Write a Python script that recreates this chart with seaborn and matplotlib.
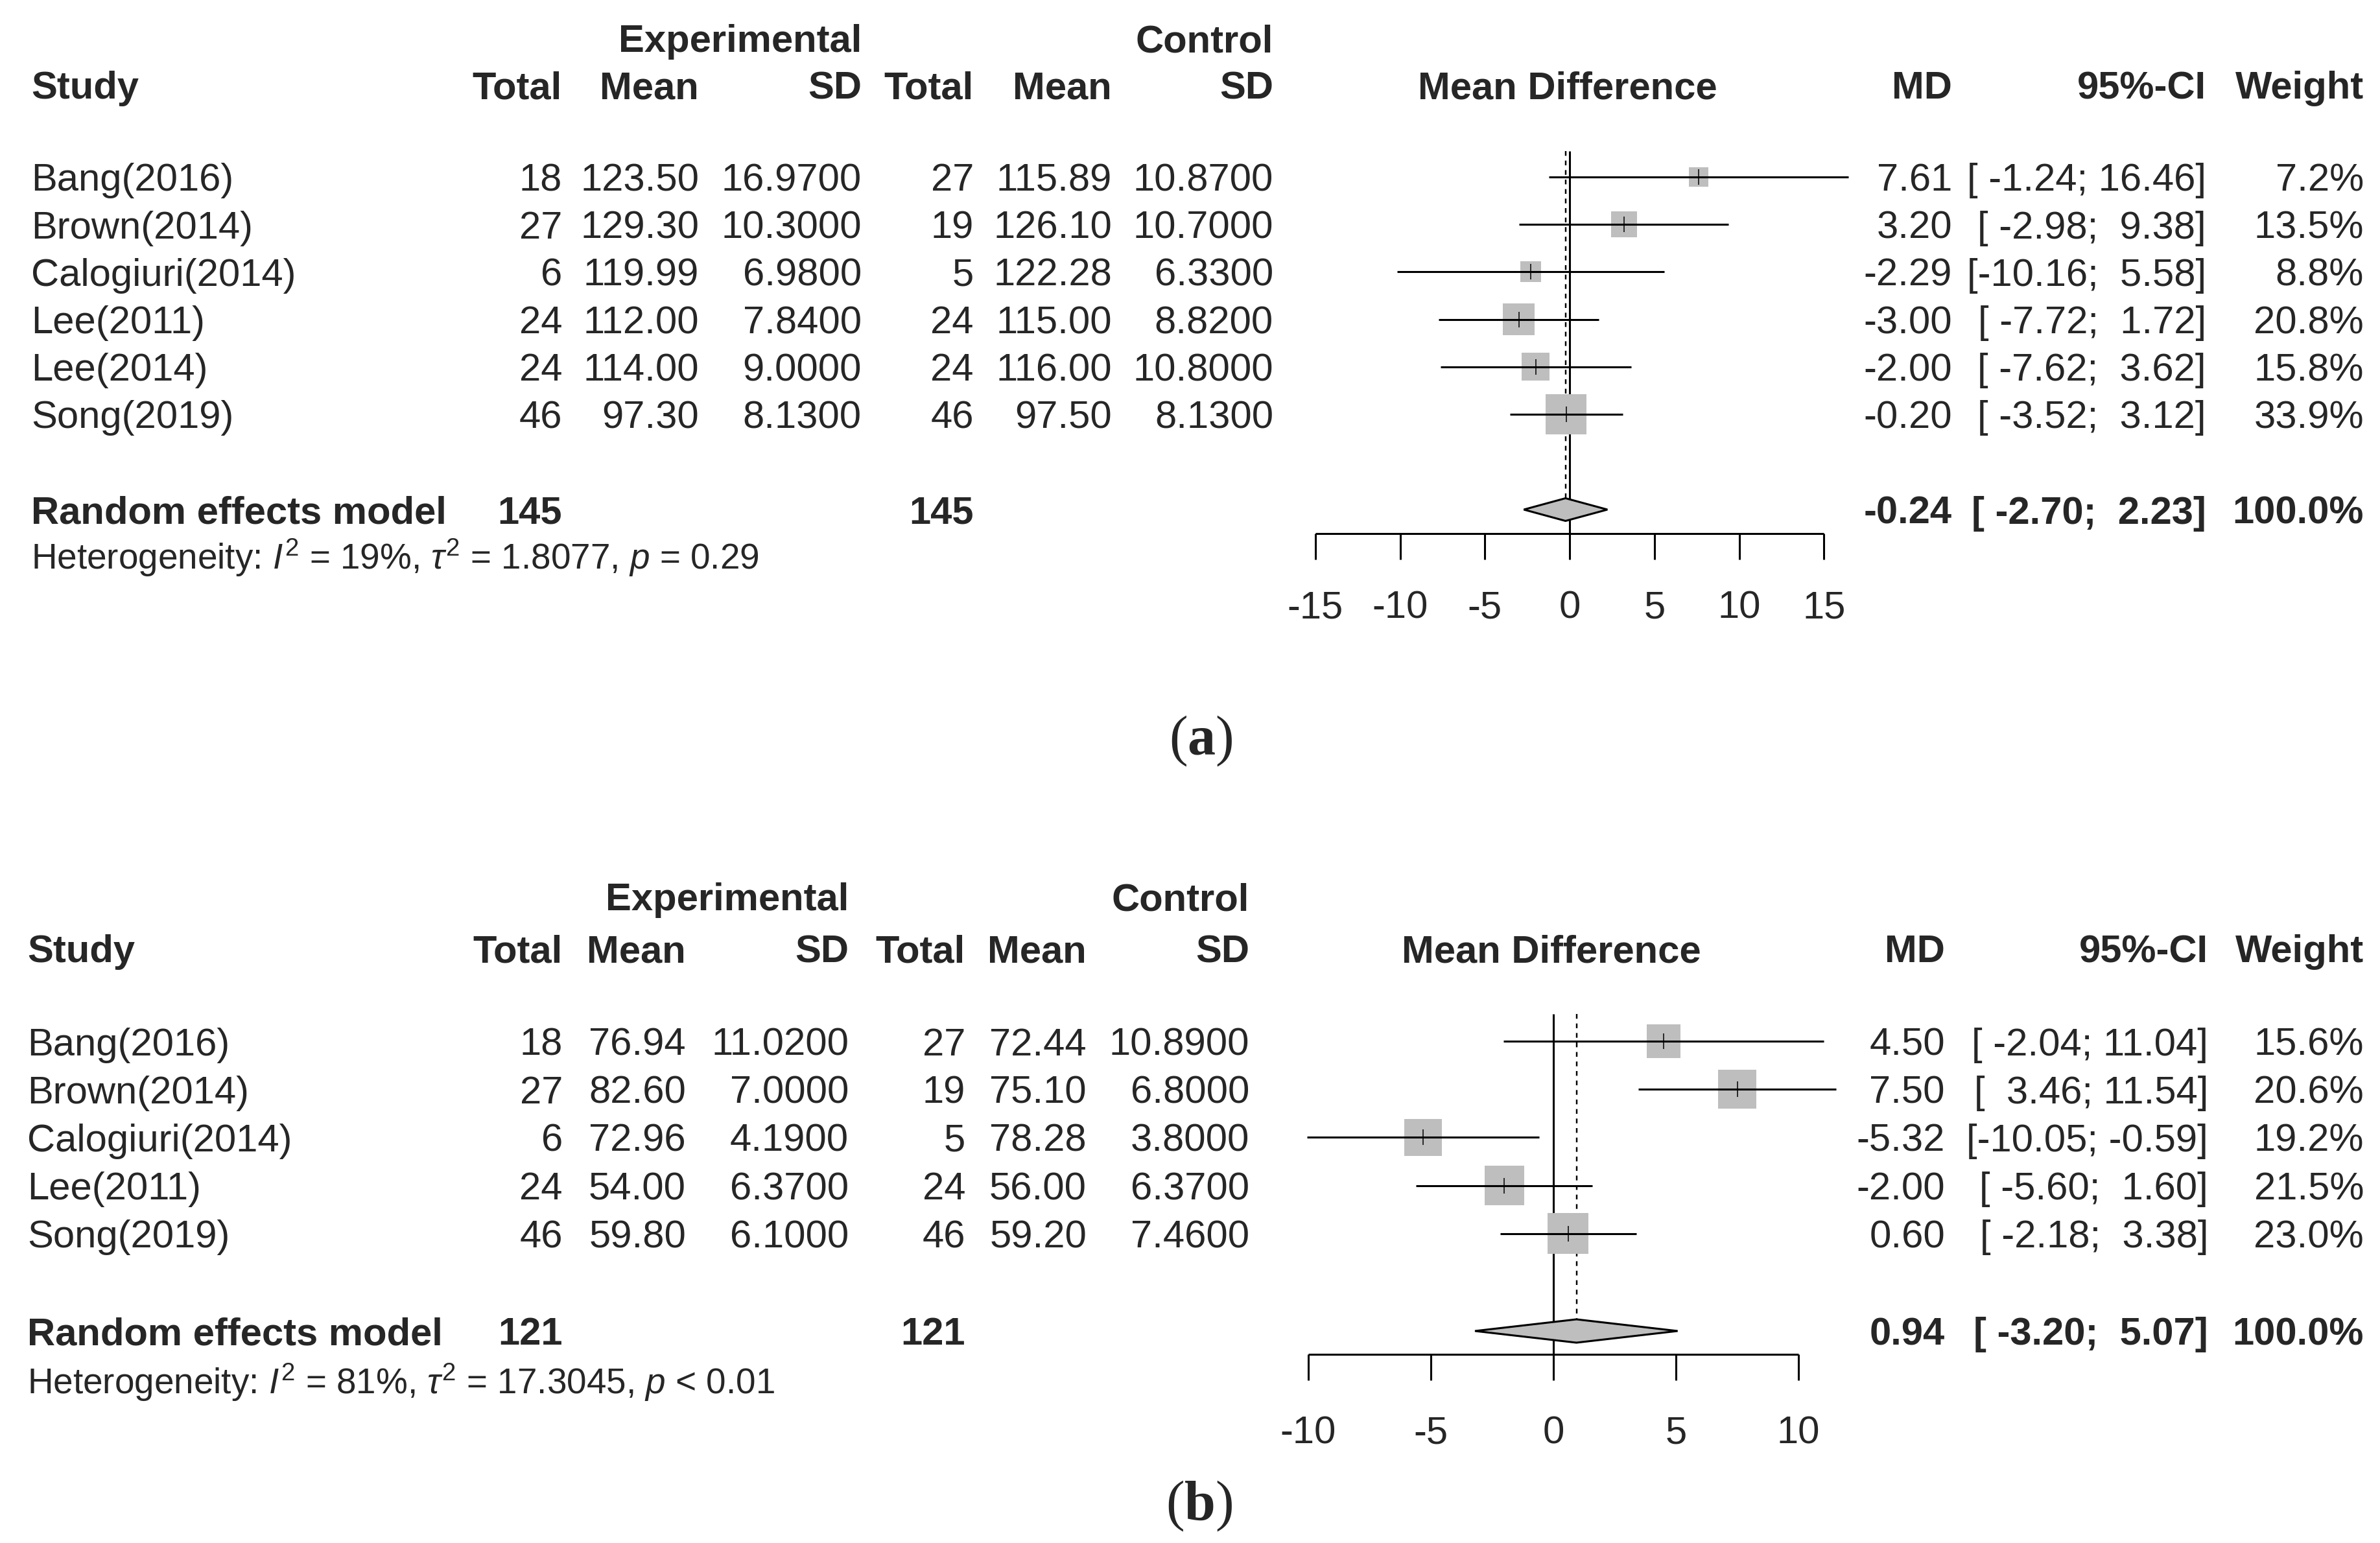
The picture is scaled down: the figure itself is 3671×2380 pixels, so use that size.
import matplotlib
matplotlib.use('Agg')
import matplotlib.pyplot as plt
import seaborn as sns

# ---- data, panel (a) ----
studies_a = ['Bang(2016)', 'Brown(2014)', 'Calogiuri(2014)', 'Lee(2011)', 'Lee(2014)', 'Song(2019)']
exp_n_a = [18, 27, 6, 24, 24, 46]
exp_mean_a = [123.50, 129.30, 119.99, 112.00, 114.00, 97.30]
exp_sd_a = [16.97, 10.30, 6.98, 7.84, 9.00, 8.13]
ctl_n_a = [27, 19, 5, 24, 24, 46]
ctl_mean_a = [115.89, 126.10, 122.28, 115.00, 116.00, 97.50]
ctl_sd_a = [10.87, 10.70, 6.33, 8.82, 10.80, 8.13]
md_a = [7.61, 3.20, -2.29, -3.00, -2.00, -0.20]
lo_a = [-1.24, -2.98, -10.16, -7.72, -7.62, -3.52]
hi_a = [16.46, 9.38, 5.58, 1.72, 3.62, 3.12]
weight_a = [7.2, 13.5, 8.8, 20.8, 15.8, 33.9]
pooled_a = [-0.24, -2.70, 2.23]
total_a = [145, 145]
het_a = r'Heterogeneity: $I^2$ = 19%, $\tau^2$ = 1.8077, $p$ = 0.29'
ticks_a = [-15, -10, -5, 0, 5, 10, 15]

# ---- data, panel (b) ----
studies_b = ['Bang(2016)', 'Brown(2014)', 'Calogiuri(2014)', 'Lee(2011)', 'Song(2019)']
exp_n_b = [18, 27, 6, 24, 46]
exp_mean_b = [76.94, 82.60, 72.96, 54.00, 59.80]
exp_sd_b = [11.02, 7.00, 4.19, 6.37, 6.10]
ctl_n_b = [27, 19, 5, 24, 46]
ctl_mean_b = [72.44, 75.10, 78.28, 56.00, 59.20]
ctl_sd_b = [10.89, 6.80, 3.80, 6.37, 7.46]
md_b = [4.50, 7.50, -5.32, -2.00, 0.60]
lo_b = [-2.04, 3.46, -10.05, -5.60, -2.18]
hi_b = [11.04, 11.54, -0.59, 1.60, 3.38]
weight_b = [15.6, 20.6, 19.2, 21.5, 23.0]
pooled_b = [0.94, -3.20, 5.07]
total_b = [121, 121]
het_b = r'Heterogeneity: $I^2$ = 81%, $\tau^2$ = 17.3045, $p$ < 0.01'
ticks_b = [-10, -5, 0, 5, 10]

W, H, DPI = 3671, 2380, 100
FS = 43
FS_HET = 39.5
GREY = '#bebebe'
LW = 2.2

sns.set_theme(style='white')
plt.rcParams['font.family'] = ['Liberation Sans', 'DejaVu Sans']
plt.rcParams['mathtext.fontset'] = 'custom'
plt.rcParams['mathtext.rm'] = 'Liberation Sans'
plt.rcParams['mathtext.it'] = 'Liberation Sans:italic'
plt.rcParams['mathtext.bf'] = 'Liberation Serif:bold'

fig = plt.figure(figsize=(W / DPI, H / DPI), dpi=DPI)
fig.patch.set_facecolor('white')

# text layer in pixel coordinates
tax = fig.add_axes([0, 0, 1, 1])
tax.set_xlim(0, W)
tax.set_ylim(H, 0)
tax.axis('off')


def ci_strings(lo, hi):
    los = ['%.2f' % v for v in lo]
    his = ['%.2f' % v for v in hi]
    wl = max(len(s) for s in los)
    wh = max(len(s) for s in his)
    return ['[' + a.rjust(wl) + '; ' + b.rjust(wh) + ']' for a, b in zip(los, his)]


def draw_panel(studies, en, em, es, cn, cm, cs, md, lo, hi, w, pooled, totals, het, ticks, L):
    t = dict(fontsize=FS, va='center_baseline')
    b = dict(fontsize=FS, va='center_baseline', fontweight='bold')
    # headers
    tax.text(L['sd_e'], L['y_exp'], 'Experimental', ha='right', **b)
    tax.text(L['sd_c'], L['y_exp'], 'Control', ha='right', **b)
    yh = L['y_head']
    tax.text(L['study'], yh, 'Study', ha='left', **b)
    for key, lab in [('tot_e', 'Total'), ('mean_e', 'Mean'), ('sd_e', 'SD'),
                     ('tot_c', 'Total'), ('mean_c', 'Mean'), ('sd_c', 'SD'),
                     ('md', 'MD'), ('ci', '95%-CI'), ('w', 'Weight')]:
        tax.text(L[key], yh, lab, ha='right', **b)
    tax.text(L['md_head'], yh, 'Mean Difference', ha='center', **b)

    cis = ci_strings(lo + [pooled[1]], hi + [pooled[2]])
    rows = [L['y0'] + i * L['dy'] for i in range(len(studies))]
    for i, y in enumerate(rows):
        tax.text(L['study'], y, studies[i], ha='left', **t)
        tax.text(L['tot_e'], y, str(en[i]), ha='right', **t)
        tax.text(L['mean_e'], y, '%.2f' % em[i], ha='right', **t)
        tax.text(L['sd_e'], y, '%.4f' % es[i], ha='right', **t)
        tax.text(L['tot_c'], y, str(cn[i]), ha='right', **t)
        tax.text(L['mean_c'], y, '%.2f' % cm[i], ha='right', **t)
        tax.text(L['sd_c'], y, '%.4f' % cs[i], ha='right', **t)
        tax.text(L['md'], y, '%.2f' % md[i], ha='right', **t)
        tax.text(L['ci'], y, cis[i], ha='right', **t)
        tax.text(L['w'], y, '%.1f%%' % w[i], ha='right', **t)

    yr = L['y_re']
    tax.text(L['study'], yr, 'Random effects model', ha='left', **b)
    tax.text(L['tot_e'], yr, str(totals[0]), ha='right', **b)
    tax.text(L['tot_c'], yr, str(totals[1]), ha='right', **b)
    tax.text(L['md'], yr, '%.2f' % pooled[0], ha='right', **b)
    tax.text(L['ci'], yr, cis[-1], ha='right', **b)
    tax.text(L['w'], yr, '100.0%', ha='right', **b)
    tax.text(L['study'], L['y_het'], het, ha='left', va='baseline', fontsize=FS_HET)

    # forest layer: x in mean-difference units, y in pixels
    fax = fig.add_axes([0, 0, 1, 1])
    fax.set_xlim(-L['px0'] / L['ppu'], (W - L['px0']) / L['ppu'])
    fax.set_ylim(H, 0)
    fax.axis('off')
    fax.patch.set_alpha(0)

    d = L['dh']
    fax.vlines(0, L['top'], L['axis_y'], color='black', lw=LW, zorder=1)
    fax.vlines(pooled[0], L['top'], yr - d, color='black', lw=LW * 0.8,
               linestyles=(0, (3, 3)), zorder=1)

    wmax = max(w)
    sizes = {wi: L['smax'] * wi / wmax for wi in w}
    sns.scatterplot(x=md, y=rows, size=w, sizes=sizes, marker='s', color=GREY,
                    linewidth=0, legend=False, ax=fax, zorder=2)
    fax.hlines(rows, lo, hi, color='black', lw=LW, zorder=3)
    fax.vlines(md, [y - 12 for y in rows], [y + 12 for y in rows], color='black', lw=1.1, zorder=4)

    fax.fill([pooled[1], pooled[0], pooled[2], pooled[0]], [yr, yr - d, yr, yr + d],
             facecolor=GREY, edgecolor='black', lw=LW, zorder=3)

    ay = L['axis_y']
    fax.hlines(ay, ticks[0], ticks[-1], color='black', lw=LW)
    fax.vlines(ticks, ay, ay + 40, color='black', lw=LW)
    for tk in ticks:
        fax.text(tk, L['tick_y'], str(tk), ha='center', fontsize=FS, va='center_baseline')

    tax.text(L['cap_x'], L['cap_y'], L['cap'], ha='center', va='baseline',
             fontsize=62, family='Liberation Serif')


layout_a = dict(y_exp=59, y_head=131, y0=273, dy=73.2, y_re=786, y_het=878,
                axis_y=823, tick_y=932, top=233, px0=2421, ppu=26.15, dh=17.5, smax=2057,
                study=48, tot_e=867, mean_e=1078, sd_e=1329, tot_c=1502, mean_c=1715, sd_c=1964,
                md_head=2418, md=3011, ci=3403, w=3646,
                cap_x=1852, cap_y=1164, cap=r'($\mathbf{a}$)')
layout_b = dict(y_exp=1383, y_head=1463, y0=1606, dy=74.2, y_re=2053, y_het=2150,
                axis_y=2089, tick_y=2205, top=1564, px0=2396, ppu=37.8, dh=18, smax=2057,
                study=42, tot_e=868, mean_e=1058, sd_e=1309, tot_c=1489, mean_c=1676, sd_c=1927,
                md_head=2393, md=3000, ci=3406, w=3646,
                cap_x=1850, cap_y=2344, cap=r'($\mathbf{b}$)')

draw_panel(studies_a, exp_n_a, exp_mean_a, exp_sd_a, ctl_n_a, ctl_mean_a, ctl_sd_a,
           md_a, lo_a, hi_a, weight_a, pooled_a, total_a, het_a, ticks_a, layout_a)
draw_panel(studies_b, exp_n_b, exp_mean_b, exp_sd_b, ctl_n_b, ctl_mean_b, ctl_sd_b,
           md_b, lo_b, hi_b, weight_b, pooled_b, total_b, het_b, ticks_b, layout_b)

fig.savefig('out.png', dpi=DPI, facecolor='white')
